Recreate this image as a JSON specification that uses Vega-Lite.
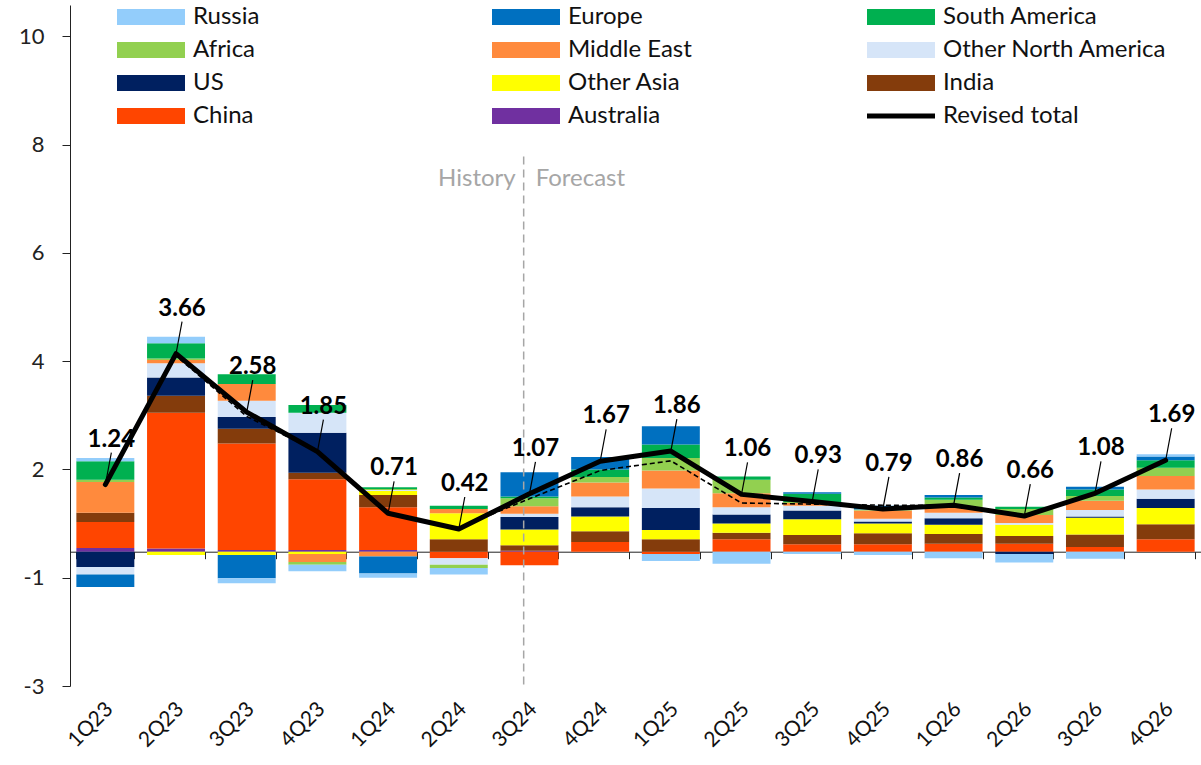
{
  "$schema": "https://vega.github.io/schema/vega-lite/v6.json",
  "width": 1131,
  "height": 681,
  "autosize": "none",
  "padding": {"left": 70, "top": 5, "right": 0, "bottom": 79},
  "background": "white",
  "config": {"view": {"stroke": null}, "font": "Lato"},
  "datasets": {
    "regions": [
      {"q": "1Q23", "region": "Australia", "v": 0.07},
      {"q": "1Q23", "region": "China", "v": 0.48},
      {"q": "1Q23", "region": "India", "v": 0.17},
      {"q": "1Q23", "region": "US", "v": -0.28},
      {"q": "1Q23", "region": "Other North America", "v": -0.14},
      {"q": "1Q23", "region": "Middle East", "v": 0.57},
      {"q": "1Q23", "region": "Africa", "v": 0.04},
      {"q": "1Q23", "region": "South America", "v": 0.34},
      {"q": "1Q23", "region": "Europe", "v": -0.23},
      {"q": "1Q23", "region": "Russia", "v": 0.06},

      {"q": "2Q23", "region": "Australia", "v": 0.06},
      {"q": "2Q23", "region": "China", "v": 2.51},
      {"q": "2Q23", "region": "India", "v": 0.31},
      {"q": "2Q23", "region": "Other Asia", "v": -0.06},
      {"q": "2Q23", "region": "US", "v": 0.34},
      {"q": "2Q23", "region": "Other North America", "v": 0.26},
      {"q": "2Q23", "region": "Middle East", "v": 0.06},
      {"q": "2Q23", "region": "Africa", "v": 0.03},
      {"q": "2Q23", "region": "South America", "v": 0.28},
      {"q": "2Q23", "region": "Russia", "v": 0.12},

      {"q": "3Q23", "region": "Australia", "v": 0.03},
      {"q": "3Q23", "region": "China", "v": 1.97},
      {"q": "3Q23", "region": "India", "v": 0.27},
      {"q": "3Q23", "region": "Other Asia", "v": -0.06},
      {"q": "3Q23", "region": "US", "v": 0.22},
      {"q": "3Q23", "region": "Other North America", "v": 0.30},
      {"q": "3Q23", "region": "Middle East", "v": 0.31},
      {"q": "3Q23", "region": "South America", "v": 0.18},
      {"q": "3Q23", "region": "Europe", "v": -0.43},
      {"q": "3Q23", "region": "Russia", "v": -0.09},

      {"q": "4Q23", "region": "Australia", "v": 0.03},
      {"q": "4Q23", "region": "China", "v": 1.31},
      {"q": "4Q23", "region": "India", "v": 0.12},
      {"q": "4Q23", "region": "Other Asia", "v": -0.04},
      {"q": "4Q23", "region": "US", "v": 0.74},
      {"q": "4Q23", "region": "Other North America", "v": 0.37},
      {"q": "4Q23", "region": "Middle East", "v": -0.15},
      {"q": "4Q23", "region": "Africa", "v": -0.05},
      {"q": "4Q23", "region": "South America", "v": 0.14},
      {"q": "4Q23", "region": "Russia", "v": -0.12},

      {"q": "1Q24", "region": "Australia", "v": 0.03},
      {"q": "1Q24", "region": "China", "v": 0.79},
      {"q": "1Q24", "region": "India", "v": 0.23},
      {"q": "1Q24", "region": "Other Asia", "v": 0.07},
      {"q": "1Q24", "region": "Other North America", "v": 0.02},
      {"q": "1Q24", "region": "Middle East", "v": -0.09},
      {"q": "1Q24", "region": "Africa", "v": 0.02},
      {"q": "1Q24", "region": "South America", "v": 0.03},
      {"q": "1Q24", "region": "Europe", "v": -0.31},
      {"q": "1Q24", "region": "Russia", "v": -0.08},

      {"q": "2Q24", "region": "China", "v": -0.12},
      {"q": "2Q24", "region": "India", "v": 0.23},
      {"q": "2Q24", "region": "Other Asia", "v": 0.48},
      {"q": "2Q24", "region": "Other North America", "v": -0.12},
      {"q": "2Q24", "region": "Middle East", "v": 0.08},
      {"q": "2Q24", "region": "Africa", "v": -0.06},
      {"q": "2Q24", "region": "South America", "v": 0.06},
      {"q": "2Q24", "region": "Russia", "v": -0.12},

      {"q": "3Q24", "region": "Australia", "v": 0.02},
      {"q": "3Q24", "region": "China", "v": -0.25},
      {"q": "3Q24", "region": "India", "v": 0.10},
      {"q": "3Q24", "region": "Other Asia", "v": 0.29},
      {"q": "3Q24", "region": "US", "v": 0.23},
      {"q": "3Q24", "region": "Other North America", "v": 0.06},
      {"q": "3Q24", "region": "Middle East", "v": 0.14},
      {"q": "3Q24", "region": "Africa", "v": 0.15},
      {"q": "3Q24", "region": "South America", "v": 0.03},
      {"q": "3Q24", "region": "Europe", "v": 0.45},

      {"q": "4Q24", "region": "China", "v": 0.18},
      {"q": "4Q24", "region": "India", "v": 0.20},
      {"q": "4Q24", "region": "Other Asia", "v": 0.27},
      {"q": "4Q24", "region": "US", "v": 0.17},
      {"q": "4Q24", "region": "Other North America", "v": 0.20},
      {"q": "4Q24", "region": "Middle East", "v": 0.26},
      {"q": "4Q24", "region": "Africa", "v": 0.10},
      {"q": "4Q24", "region": "South America", "v": 0.14},
      {"q": "4Q24", "region": "Europe", "v": 0.23},

      {"q": "1Q25", "region": "China", "v": -0.04},
      {"q": "1Q25", "region": "India", "v": 0.23},
      {"q": "1Q25", "region": "Other Asia", "v": 0.17},
      {"q": "1Q25", "region": "US", "v": 0.41},
      {"q": "1Q25", "region": "Other North America", "v": 0.36},
      {"q": "1Q25", "region": "Middle East", "v": 0.33},
      {"q": "1Q25", "region": "Africa", "v": 0.23},
      {"q": "1Q25", "region": "South America", "v": 0.25},
      {"q": "1Q25", "region": "Europe", "v": 0.34},
      {"q": "1Q25", "region": "Russia", "v": -0.13},

      {"q": "2Q25", "region": "China", "v": 0.23},
      {"q": "2Q25", "region": "India", "v": 0.12},
      {"q": "2Q25", "region": "Other Asia", "v": 0.17},
      {"q": "2Q25", "region": "US", "v": 0.17},
      {"q": "2Q25", "region": "Other North America", "v": 0.13},
      {"q": "2Q25", "region": "Middle East", "v": 0.26},
      {"q": "2Q25", "region": "Africa", "v": 0.25},
      {"q": "2Q25", "region": "South America", "v": 0.06},
      {"q": "2Q25", "region": "Russia", "v": -0.22},

      {"q": "3Q25", "region": "China", "v": 0.14},
      {"q": "3Q25", "region": "India", "v": 0.17},
      {"q": "3Q25", "region": "Other Asia", "v": 0.29},
      {"q": "3Q25", "region": "US", "v": 0.16},
      {"q": "3Q25", "region": "Other North America", "v": 0.09},
      {"q": "3Q25", "region": "Middle East", "v": 0.05},
      {"q": "3Q25", "region": "Africa", "v": 0.02},
      {"q": "3Q25", "region": "South America", "v": 0.15},
      {"q": "3Q25", "region": "Europe", "v": 0.03},
      {"q": "3Q25", "region": "Russia", "v": -0.04},

      {"q": "4Q25", "region": "China", "v": 0.14},
      {"q": "4Q25", "region": "India", "v": 0.20},
      {"q": "4Q25", "region": "Other Asia", "v": 0.18},
      {"q": "4Q25", "region": "US", "v": 0.04},
      {"q": "4Q25", "region": "Other North America", "v": 0.05},
      {"q": "4Q25", "region": "Middle East", "v": 0.15},
      {"q": "4Q25", "region": "Africa", "v": 0.02},
      {"q": "4Q25", "region": "Europe", "v": 0.07},
      {"q": "4Q25", "region": "Russia", "v": -0.06},

      {"q": "1Q26", "region": "China", "v": 0.15},
      {"q": "1Q26", "region": "India", "v": 0.18},
      {"q": "1Q26", "region": "Other Asia", "v": 0.17},
      {"q": "1Q26", "region": "US", "v": 0.12},
      {"q": "1Q26", "region": "Other North America", "v": 0.10},
      {"q": "1Q26", "region": "Middle East", "v": 0.10},
      {"q": "1Q26", "region": "Africa", "v": 0.14},
      {"q": "1Q26", "region": "South America", "v": 0.04},
      {"q": "1Q26", "region": "Europe", "v": 0.05},
      {"q": "1Q26", "region": "Russia", "v": -0.12},

      {"q": "2Q26", "region": "China", "v": 0.15},
      {"q": "2Q26", "region": "India", "v": 0.14},
      {"q": "2Q26", "region": "Other Asia", "v": 0.21},
      {"q": "2Q26", "region": "US", "v": -0.04},
      {"q": "2Q26", "region": "Other North America", "v": 0.03},
      {"q": "2Q26", "region": "Middle East", "v": 0.15},
      {"q": "2Q26", "region": "Africa", "v": 0.11},
      {"q": "2Q26", "region": "South America", "v": 0.04},
      {"q": "2Q26", "region": "Russia", "v": -0.16},

      {"q": "3Q26", "region": "China", "v": 0.09},
      {"q": "3Q26", "region": "India", "v": 0.23},
      {"q": "3Q26", "region": "Other Asia", "v": 0.31},
      {"q": "3Q26", "region": "US", "v": 0.02},
      {"q": "3Q26", "region": "Other North America", "v": 0.12},
      {"q": "3Q26", "region": "Middle East", "v": 0.17},
      {"q": "3Q26", "region": "Africa", "v": 0.09},
      {"q": "3Q26", "region": "South America", "v": 0.12},
      {"q": "3Q26", "region": "Europe", "v": 0.05},
      {"q": "3Q26", "region": "Russia", "v": -0.13},

      {"q": "4Q26", "region": "China", "v": 0.23},
      {"q": "4Q26", "region": "India", "v": 0.28},
      {"q": "4Q26", "region": "Other Asia", "v": 0.30},
      {"q": "4Q26", "region": "US", "v": 0.17},
      {"q": "4Q26", "region": "Other North America", "v": 0.17},
      {"q": "4Q26", "region": "Middle East", "v": 0.25},
      {"q": "4Q26", "region": "Africa", "v": 0.15},
      {"q": "4Q26", "region": "South America", "v": 0.14},
      {"q": "4Q26", "region": "Europe", "v": 0.07},
      {"q": "4Q26", "region": "Russia", "v": 0.04}
    ],
    "totals": [
      {"q": "1Q23", "revised": 1.24, "previous": 1.24},
      {"q": "2Q23", "revised": 3.66, "previous": 3.62},
      {"q": "3Q23", "revised": 2.58, "previous": 2.50},
      {"q": "4Q23", "revised": 1.85, "previous": 1.85},
      {"q": "1Q24", "revised": 0.71, "previous": 0.70},
      {"q": "2Q24", "revised": 0.42, "previous": 0.44},
      {"q": "3Q24", "revised": 1.07, "previous": 0.98},
      {"q": "4Q24", "revised": 1.67, "previous": 1.50},
      {"q": "1Q25", "revised": 1.86, "previous": 1.68},
      {"q": "2Q25", "revised": 1.06, "previous": 0.90},
      {"q": "3Q25", "revised": 0.93, "previous": 0.88},
      {"q": "4Q25", "revised": 0.79, "previous": 0.86},
      {"q": "1Q26", "revised": 0.86, "previous": 0.86},
      {"q": "2Q26", "revised": 0.66, "previous": 0.66},
      {"q": "3Q26", "revised": 1.08, "previous": 1.08},
      {"q": "4Q26", "revised": 1.69, "previous": 1.69}
    ],
    "divider": [{"q": "3Q24", "top": 7.3, "bottom": -2.48, "textY": 6.89}]
  },
  "encoding": {
    "x": {
      "field": "q", "type": "ordinal",
      "scale": {
        "domain": ["1Q23","2Q23","3Q23","4Q23","1Q24","2Q24","3Q24","4Q24","1Q25","2Q25","3Q25","4Q25","1Q26","2Q26","3Q26","4Q26"],
        "paddingInner": 0.18, "paddingOuter": 0.09
      },
      "axis": {
        "orient": "bottom", "offset": -134.3, "title": null, "grid": false,
        "domainColor": "#222", "domainWidth": 1, "tickColor": "#222", "tickSize": 7, "tickBand": "extent",
        "labelAngle": -45, "labelAlign": "right", "labelBaseline": "middle",
        "labelPadding": 147, "labelOffset": 4, "labelFont": "Lato", "labelFontSize": 21, "labelColor": "#111"
      }
    }
  },
  "layer": [
    {
      "data": {"name": "regions"},
      "transform": [
        {"calculate": "indexof(['Russia','Europe','South America','Africa','Middle East','Other North America','US','Other Asia','India','China','Australia'], datum.region)", "as": "ord"}
      ],
      "mark": {"type": "bar"},
      "encoding": {
        "y": {
          "field": "v", "type": "quantitative", "stack": "zero",
          "scale": {"domain": [-2.48, 10.1], "nice": false, "zero": false},
          "axis": {
            "title": null, "grid": false,
            "values": [9.52, 7.52, 5.52, 3.52, 1.52, -0.48, -2.48],
            "labelExpr": "datum.value > 9 ? '10' : datum.value > 7 ? '8' : datum.value > 5 ? '6' : datum.value > 3 ? '4' : datum.value > 1 ? '2' : datum.value > -1 ? '-1' : '-3'",
            "domainColor": "#222", "tickColor": "#222", "tickSize": 8,
            "labelPadding": 18, "labelFont": "Lato", "labelFontSize": 22, "labelColor": "#222"
          }
        },
        "color": {
          "field": "region", "type": "nominal",
          "scale": {
            "domain": ["Russia","Europe","South America","Africa","Middle East","Other North America","US","Other Asia","India","China","Australia","Revised total"],
            "range": ["#93CDFB","#0070C0","#00B050","#92D050","#FF8A3D","#D6E5F8","#002060","#FFFF00","#843C0C","#FF4500","#7030A0","#000000"]
          },
          "legend": {
            "orient": "none", "legendX": 39, "legendY": 0, "direction": "horizontal",
            "columns": 3, "gridAlign": "all", "title": null, "padding": 0,
            "columnPadding": 67, "rowPadding": 9,
            "symbolSize": 64, "symbolStrokeWidth": 0,
            "labelFont": "Lato", "labelFontSize": 24, "labelColor": "#111", "labelOffset": 60, "labelLimit": 400,
            "encode": {
              "symbols": {
                "update": {
                  "shape": {"signal": "datum.value === 'Revised total' ? 'M-1,-0.6L16,-0.6L16,0.6L-1,0.6Z' : 'M-1,-2L16,-2L16,2L-1,2Z'"}
                }
              }
            }
          }
        },
        "order": {"field": "ord", "type": "quantitative", "sort": "descending"}
      }
    },
    {
      "data": {"name": "divider"},
      "mark": {"type": "rule", "color": "#A6A6A6", "strokeWidth": 1.5, "strokeDash": [8, 5]},
      "encoding": {
        "x": {"field": "q", "bandPosition": 0.4},
        "y": {"field": "top", "type": "quantitative"},
        "y2": {"field": "bottom"}
      }
    },
    {
      "data": {"name": "divider"},
      "mark": {"type": "text", "color": "#A6A6A6", "fontSize": 24, "font": "Lato", "align": "right", "baseline": "middle", "dx": -8},
      "encoding": {
        "x": {"field": "q", "bandPosition": 0.4},
        "y": {"field": "textY", "type": "quantitative"},
        "text": {"value": "History"}
      }
    },
    {
      "data": {"name": "divider"},
      "mark": {"type": "text", "color": "#A6A6A6", "fontSize": 24, "font": "Lato", "align": "left", "baseline": "middle", "dx": 12},
      "encoding": {
        "x": {"field": "q", "bandPosition": 0.4},
        "y": {"field": "textY", "type": "quantitative"},
        "text": {"value": "Forecast"}
      }
    },
    {
      "data": {"name": "totals"},
      "mark": {"type": "line", "color": "#000", "strokeWidth": 1.6, "strokeDash": [5, 3]},
      "encoding": {"y": {"field": "previous", "type": "quantitative"}}
    },
    {
      "data": {"name": "totals"},
      "mark": {"type": "line", "color": "#000", "strokeWidth": 5, "strokeJoin": "round", "strokeCap": "round"},
      "encoding": {"y": {"field": "revised", "type": "quantitative"}}
    },
    {
      "data": {"name": "totals"},
      "mark": {"type": "rule", "color": "#000", "strokeWidth": 1.2, "y2Offset": -32, "x2Offset": 6},
      "encoding": {
        "x2": {"field": "q"},
        "y": {"field": "revised", "type": "quantitative"},
        "y2": {"field": "revised"}
      }
    },
    {
      "data": {"name": "totals"},
      "mark": {"type": "text", "color": "#000", "fontSize": 24, "font": "Lato", "fontWeight": "bold", "dy": -45, "dx": 6, "baseline": "middle", "align": "center"},
      "encoding": {
        "y": {"field": "revised", "type": "quantitative"},
        "text": {"field": "revised", "type": "quantitative", "format": ".2f"}
      }
    }
  ]
}
